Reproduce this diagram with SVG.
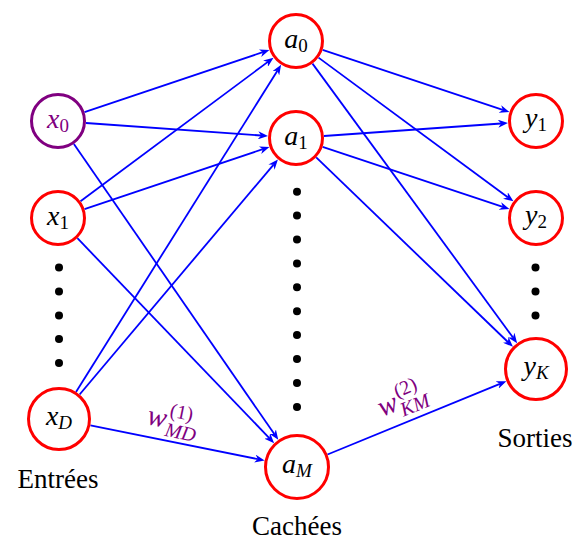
<svg xmlns="http://www.w3.org/2000/svg" width="576" height="543" viewBox="0 0 576 543">
<defs>
<marker id="arr" viewBox="0 0 10 8" refX="3" refY="4" markerWidth="10" markerHeight="8" markerUnits="userSpaceOnUse" orient="auto">
<path d="M0,0 L10,4 L0,8 L3,4 Z" fill="#0000ff"/>
</marker>
</defs>
<style>
text{font-family:"Liberation Serif","Times New Roman",serif}
.n text{font-size:28px;text-anchor:middle}
.i{font-style:italic}
.s{font-size:19px}
.e line{stroke:#0000ff;stroke-width:1.8;marker-end:url(#arr)}
.dot{fill:#000000}
.lbl{font-size:27px;text-anchor:middle}
.w{fill:#800080;font-size:29px}
.ws{font-size:20px}
</style>
<rect width="576" height="543" fill="#ffffff"/>
<g id="edges" class="e">
<line x1="84.5" y1="112.1" x2="262.8" y2="52.2"/>
<line x1="85.9" y1="123.0" x2="261.1" y2="135.5"/>
<line x1="73.9" y1="144.0" x2="274.3" y2="434.1"/>
<line x1="80.5" y1="201.3" x2="267.9" y2="61.9"/>
<line x1="84.5" y1="209.1" x2="262.8" y2="149.2"/>
<line x1="77.4" y1="238.2" x2="269.3" y2="438.1"/>
<line x1="76.0" y1="391.9" x2="277.4" y2="70.7"/>
<line x1="79.6" y1="394.5" x2="273.4" y2="164.8"/>
<line x1="90.4" y1="425.3" x2="257.8" y2="459.1"/>
<line x1="322.6" y1="49.9" x2="502.8" y2="109.9"/>
<line x1="318.5" y1="57.6" x2="507.8" y2="197.2"/>
<line x1="312.5" y1="63.6" x2="513.0" y2="337.5"/>
<line x1="323.9" y1="136.0" x2="501.1" y2="123.5"/>
<line x1="322.6" y1="146.9" x2="502.8" y2="206.9"/>
<line x1="316.2" y1="157.4" x2="507.9" y2="342.0"/>
<line x1="327.5" y1="454.5" x2="499.9" y2="383.8"/>
</g>
<g id="edge-labels">
<g transform="translate(146,424) rotate(11.4)">
<text class="w i" x="0" y="0">w</text>
<text class="w ws i" x="20" y="8">MD</text>
<text class="w ws" x="21" y="-12">(1)</text>
</g>
<g transform="translate(382,417) rotate(-22.3)">
<text class="w i" x="0" y="0">w</text>
<text class="w ws i" x="20" y="8">KM</text>
<text class="w ws" x="21" y="-12">(2)</text>
</g>
</g>
<g id="x0" class="n"><circle cx="58" cy="121" r="26.5" fill="#ffffff" stroke="#800080" stroke-width="3"/><text x="58" y="128" fill="#800080"><tspan class="i">x</tspan><tspan class="s" dy="4">0</tspan></text></g>
<g id="x1" class="n"><circle cx="58" cy="218" r="26.5" fill="#ffffff" stroke="#ff0000" stroke-width="3"/><text x="58" y="225"><tspan class="i">x</tspan><tspan class="s" dy="4">1</tspan></text></g>
<g id="xD" class="n"><circle cx="59" cy="419" r="30.5" fill="#ffffff" stroke="#ff0000" stroke-width="3"/><text x="59" y="425"><tspan class="i">x</tspan><tspan class="s i" dy="4">D</tspan></text></g>
<g id="a0" class="n"><circle cx="296" cy="41" r="26.5" fill="#ffffff" stroke="#ff0000" stroke-width="3"/><text x="296" y="48"><tspan class="i">a</tspan><tspan class="s" dy="4">0</tspan></text></g>
<g id="a1" class="n"><circle cx="296" cy="138" r="26.5" fill="#ffffff" stroke="#ff0000" stroke-width="3"/><text x="296" y="145"><tspan class="i">a</tspan><tspan class="s" dy="4">1</tspan></text></g>
<g id="aM" class="n"><circle cx="297" cy="467" r="31.5" fill="#ffffff" stroke="#ff0000" stroke-width="3"/><text x="297" y="473"><tspan class="i">a</tspan><tspan class="s i" dy="4">M</tspan></text></g>
<g id="y1" class="n"><circle cx="536" cy="121" r="26.5" fill="#ffffff" stroke="#ff0000" stroke-width="3"/><text x="536" y="127"><tspan class="i">y</tspan><tspan class="s" dy="4">1</tspan></text></g>
<g id="y2" class="n"><circle cx="536" cy="218" r="26.5" fill="#ffffff" stroke="#ff0000" stroke-width="3"/><text x="536" y="224"><tspan class="i">y</tspan><tspan class="s" dy="4">2</tspan></text></g>
<g id="yK" class="n"><circle cx="536" cy="369" r="30.5" fill="#ffffff" stroke="#ff0000" stroke-width="3"/><text x="536" y="375"><tspan class="i">y</tspan><tspan class="s i" dy="4">K</tspan></text></g>
<g id="dots">
<circle class="dot" cx="59" cy="267.5" r="4"/><circle class="dot" cx="59" cy="291.5" r="4"/><circle class="dot" cx="59" cy="315.5" r="4"/><circle class="dot" cx="59" cy="339" r="4"/><circle class="dot" cx="59" cy="363" r="4"/>
<circle class="dot" cx="297" cy="191.7" r="4"/><circle class="dot" cx="297" cy="215.6" r="4"/><circle class="dot" cx="297" cy="239.5" r="4"/><circle class="dot" cx="297" cy="263.4" r="4"/><circle class="dot" cx="297" cy="287.3" r="4"/><circle class="dot" cx="297" cy="311.2" r="4"/><circle class="dot" cx="297" cy="335.1" r="4"/><circle class="dot" cx="297" cy="359" r="4"/><circle class="dot" cx="297" cy="383" r="4"/><circle class="dot" cx="297" cy="407" r="4"/>
<circle class="dot" cx="535.5" cy="267.5" r="4"/><circle class="dot" cx="535.5" cy="291.5" r="4"/><circle class="dot" cx="535.5" cy="315.5" r="4"/>
</g>
<g id="labels">
<text class="lbl" x="58" y="488">Entrées</text>
<text class="lbl" x="297" y="535">Cachées</text>
<text class="lbl" x="535" y="447">Sorties</text>
</g>
</svg>
